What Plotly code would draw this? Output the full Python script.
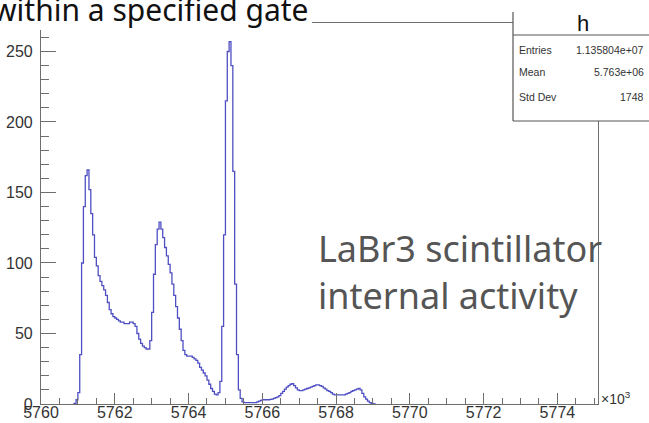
import plotly.graph_objects as go

# ---------------- data ----------------
bin_start = 5760.85      # left edge of first listed bin (units of 10^3)
bin_width = 0.05
counts = [
    0, 0.5, 3, 8, 35, 100, 140, 162, 166, 152,
    135, 120, 104, 98, 91, 87, 84, 81, 77, 72,
    67, 64, 62, 61, 60, 59, 58, 58, 57, 57,
    57, 58, 58, 57, 55, 50, 46, 43, 41, 40,
    39, 39, 45, 65, 92, 113, 124, 129, 124, 118,
    111, 105, 99, 93, 85, 77, 69, 61, 53, 45,
    38, 35, 34, 34, 34, 33, 32, 31, 29, 26,
    24, 22, 20, 17, 14, 11, 9, 7, 6.5, 8,
    16, 55, 120, 215, 250, 257, 240, 165, 85, 35,
    10, 4, 1.5, 1, 1, 1, 1, 1, 1, 1,
    1.5, 2, 2.5, 3, 3, 3, 3, 3.3, 3.5, 4,
    4.5, 5, 6, 7.5, 9, 10.5, 12, 13, 14, 14.5,
    13, 11.5, 10, 9.5, 9.5, 10, 10.5, 11, 11.5, 12,
    12.5, 13, 13.5, 13.5, 13, 12.5, 11.5, 10.5, 9.5, 9,
    8, 7, 6.5, 6.5, 6.5, 6.5, 6.5, 6.5, 7, 7.5,
    8, 9, 9.5, 10, 10.5, 11, 10, 7.5, 5, 3.5,
    2, 1, 0.5, 0, 0,
]
x_centers = [bin_start + bin_width * (i + 0.5) for i in range(len(counts))]

title_text = "within a specified gate"
hist_name = "h"
stats_labels = ["Entries", "Mean", "Std Dev"]
stats_values = ["1.135804e+07", "5.763e+06", "1748"]
note_text = "LaBr3 scintillator<br>internal activity"

# ---------------- layout geometry ----------------
W, H = 649, 423
L, R, T, B = 41, 51, 23, 19
PW, PH = W - L - R, H - T - B


def px(x):
    return (x - L) / PW


def py(y):
    return (H - B - y) / PH


axis_col = "#6e6e6e"
tick_font = dict(family="Liberation Sans, Arial, sans-serif", size=16, color="#333333")

fig = go.Figure()
fig.add_trace(go.Scatter(
    x=x_centers, y=counts, mode="lines",
    line=dict(color="#4f4fc4", width=1.3, shape="hvh"),
    hoverinfo="skip", showlegend=False,
))

fig.update_layout(
    width=W, height=H,
    margin=dict(l=L, r=R, t=T, b=B, pad=0, autoexpand=False),
    paper_bgcolor="white", plot_bgcolor="white",
    showlegend=False,
)
fig.update_xaxes(
    range=[5760, 5775.1], tick0=5760, dtick=2, automargin=False,
    showgrid=False, zeroline=False,
    showline=True, linecolor=axis_col, linewidth=1.2, mirror=True,
    ticks="inside", ticklen=11, tickwidth=1.2, tickcolor=axis_col,
    minor=dict(ticks="inside", ticklen=6, dtick=0.5, tickcolor=axis_col, tickwidth=1, showgrid=False),
    tickfont=tick_font, ticklabelstandoff=-6,
)
fig.update_yaxes(
    range=[0, 270.2], tick0=0, dtick=50, automargin=False,
    showgrid=False, zeroline=False,
    showline=True, linecolor=axis_col, linewidth=1.2, mirror=True,
    ticks="inside", ticklen=15, tickwidth=1.2, tickcolor=axis_col,
    minor=dict(ticks="inside", ticklen=8, dtick=10, tickcolor=axis_col, tickwidth=1, showgrid=False),
    tickfont=tick_font, ticklabelstandoff=4,
)

shapes = []
# title pave (covers the frame top line)
shapes.append(dict(type="rect", xref="paper", yref="paper", layer="above",
                   x0=px(-20), x1=px(312), y0=py(-20), y1=py(30),
                   fillcolor="white", line=dict(width=0)))
# stats box
sx0, sx1, sy0, sy1, sh = 513, 665, 12, 121, 35
shapes.append(dict(type="rect", xref="paper", yref="paper", layer="above",
                   x0=px(sx0), x1=px(sx1), y0=py(sy1), y1=py(sy0),
                   fillcolor="white", line=dict(width=0)))
for (xa, ya, xb, yb) in [(sx0, sy0, sx0, sy1), (sx0, sy1, sx1, sy1), (sx0, sh, sx1, sh)]:
    shapes.append(dict(type="line", xref="paper", yref="paper", layer="above",
                       x0=px(xa), y0=py(ya), x1=px(xb), y1=py(yb),
                       line=dict(color="#555555", width=1.2)))
fig.update_layout(shapes=shapes)

ann = []
ann.append(dict(text=title_text, xref="paper", yref="paper", x=px(311), y=py(10),
                xanchor="right", yanchor="middle", showarrow=False,
                font=dict(family="Noto Sans", size=30, color="#111111")))
ann.append(dict(text=hist_name, xref="paper", yref="paper", x=px(583), y=py(23),
                xanchor="center", yanchor="middle", showarrow=False,
                font=dict(family="Liberation Sans, Arial", size=22, color="#111111")))
row_y = [50, 72, 97]
for lab, val, yy in zip(stats_labels, stats_values, row_y):
    ann.append(dict(text=lab, xref="paper", yref="paper", x=px(517), y=py(yy),
                    xanchor="left", yanchor="middle", showarrow=False,
                    font=dict(family="Liberation Sans, Arial", size=10.5, color="#333333")))
    ann.append(dict(text=val, xref="paper", yref="paper", x=px(646), y=py(yy),
                    xanchor="right", yanchor="middle", showarrow=False,
                    font=dict(family="Liberation Sans, Arial", size=10.5, color="#333333")))
ann.append(dict(text="×10<sup>3</sup>", xref="paper", yref="paper", x=px(599), y=py(398),
                xanchor="left", yanchor="middle", showarrow=False,
                font=dict(family="Liberation Sans, Arial", size=14, color="#333333")))
ann.append(dict(text=note_text, xref="paper", yref="paper", x=px(316), y=py(272),
                xanchor="left", yanchor="middle", align="left", showarrow=False,
                font=dict(family="Noto Sans", size=36, color="#555555")))
fig.update_layout(annotations=ann)

fig.write_html("out.html", config={"displayModeBar": False})
